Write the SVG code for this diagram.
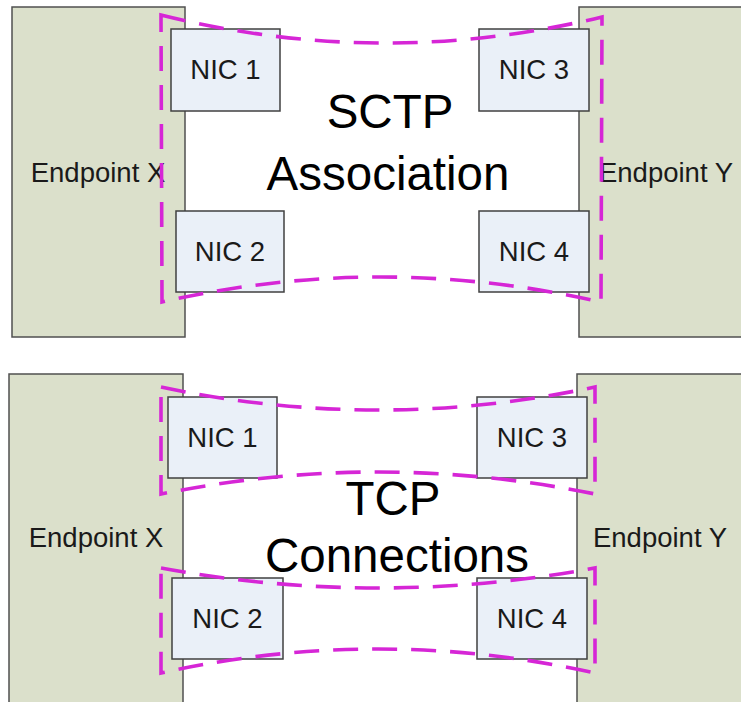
<svg xmlns="http://www.w3.org/2000/svg" width="741" height="702" viewBox="0 0 741 702">
  <style>
    .endpoint { fill: #dbe0cb; stroke: #505050; stroke-width: 1.5; }
    .nic { fill: #eaf0f8; stroke: #404040; stroke-width: 1.5; }
    .lbl { font-family: "Liberation Sans", Arial, sans-serif; font-size: 27.5px; fill: #1a1a1a; text-anchor: middle; }
    .title { font-family: "Liberation Sans", Arial, sans-serif; font-size: 47.5px; fill: #000; text-anchor: middle; }
    .path { fill: none; stroke: #d626d6; stroke-width: 3.6; stroke-dasharray: 25 14; stroke-linejoin: miter; }
  </style>
  <rect width="741" height="702" fill="#ffffff"/>

  <!-- Upper panel: one SCTP association across all NICs -->
  <g id="sctp-endpoint-x">
    <rect class="endpoint" x="12" y="7" width="173" height="330"/>
    <text class="lbl" x="98" y="182">Endpoint X</text>
  </g>
  <g id="sctp-endpoint-y">
    <rect class="endpoint" x="579" y="7" width="180" height="330"/>
    <text class="lbl" x="666" y="182">Endpoint Y</text>
  </g>
  <g id="sctp-nic1">
    <rect class="nic" x="171" y="29" width="109" height="82"/>
    <text class="lbl" x="225.5" y="79">NIC 1</text>
  </g>
  <g id="sctp-nic2">
    <rect class="nic" x="176" y="211" width="108" height="81"/>
    <text class="lbl" x="230" y="261">NIC 2</text>
  </g>
  <g id="sctp-nic3">
    <rect class="nic" x="479" y="29" width="110" height="82"/>
    <text class="lbl" x="534" y="79">NIC 3</text>
  </g>
  <g id="sctp-nic4">
    <rect class="nic" x="479" y="211" width="110" height="81"/>
    <text class="lbl" x="534" y="261">NIC 4</text>
  </g>
  <g id="sctp-title">
    <text class="title" x="390" y="128">SCTP</text>
    <text class="title" x="388" y="190">Association</text>
  </g>

  <!-- Lower panel: separate TCP connections per NIC pair -->
  <g id="tcp-endpoint-x">
    <rect class="endpoint" x="9" y="374" width="174" height="340"/>
    <text class="lbl" x="96" y="547">Endpoint X</text>
  </g>
  <g id="tcp-endpoint-y">
    <rect class="endpoint" x="577" y="374" width="180" height="340"/>
    <text class="lbl" x="660" y="547">Endpoint Y</text>
  </g>
  <g id="tcp-nic1">
    <rect class="nic" x="168" y="397" width="109" height="81"/>
    <text class="lbl" x="222.5" y="446.5">NIC 1</text>
  </g>
  <g id="tcp-nic2">
    <rect class="nic" x="172" y="578" width="111" height="81"/>
    <text class="lbl" x="227.5" y="627.5">NIC 2</text>
  </g>
  <g id="tcp-nic3">
    <rect class="nic" x="477" y="397" width="110" height="81"/>
    <text class="lbl" x="532" y="446.5">NIC 3</text>
  </g>
  <g id="tcp-nic4">
    <rect class="nic" x="477" y="578" width="110" height="81"/>
    <text class="lbl" x="532" y="627.5">NIC 4</text>
  </g>
  <g id="tcp-title">
    <text class="title" x="393" y="515">TCP</text>
    <text class="title" x="397" y="572">Connections</text>
  </g>

  <!-- Dashed outlines of the association / connections -->
  <g id="connectors">
    <path class="path" d="M161,15 Q381,70 602,17 L601,302 Q380,252 162,302 Z"/>
    <path class="path" d="M161,387 Q378,433 595,387 L595,494 Q378,450 161,494 Z"/>
    <path class="path" d="M161,568 Q378,608 595,568 L595,673 Q378,625 161,673 Z"/>
  </g>
</svg>
